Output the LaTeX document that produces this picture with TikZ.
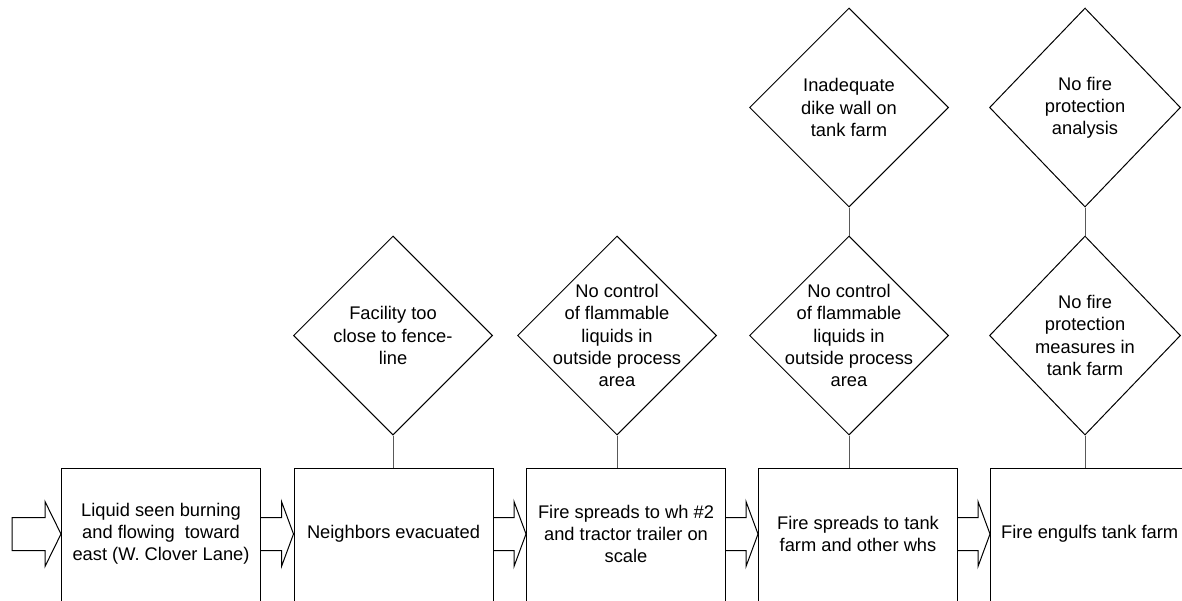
\documentclass[tikz,border=0pt]{standalone}
\usepackage{fontspec}
\setmainfont{Liberation Sans}
\usetikzlibrary{shapes.geometric,calc}
\tikzset{
  box/.style={draw=black, line width=1pt, minimum width=199pt, minimum height=150pt, inner sep=0pt, anchor=north west},
  dia/.style={draw=black, line width=1pt, diamond, minimum width=199pt, minimum height=199pt, inner sep=0pt},
  txt/.style={align=center, font=\fontsize{18.3}{22.2}\selectfont, inner sep=0pt},
  link/.style={draw=black!65, line width=1pt},
  barrow/.style={draw=black, line width=1pt, line join=miter}
}
\begin{document}
\begin{tikzpicture}[x=1pt, y=-1pt]
\useasboundingbox (0,0) rectangle (1182,600);
% boxes (bottom edge lies below the picture)
\node[box] (b1) at (61,468) {};
\node[box] (b2) at (293.5,468) {};
\node[box] (b3) at (526,468) {};
\node[box] (b4) at (758,468) {};
\node[box] (b5) at (990,468) {};
\foreach \b in {b1,b2,b3,b4,b5}{
  \coordinate (\b w) at ($(\b.north west)+(0,66)$);
  \coordinate (\b e) at ($(\b.north east)+(0,66)$);
  \coordinate (\b c) at ($(\b.north)+(0,66)$);
}
\node[txt] at (b1c) {Liquid seen burning\\and flowing\ \ toward\\east (W. Clover Lane)};
\node[txt] at (b2c) {Neighbors evacuated};
\node[txt] at (b3c) {Fire spreads to wh \#2\\and tractor trailer on\\scale};
\node[txt] at (b4c) {Fire spreads to tank\\farm and other whs};
\node[txt, anchor=west] at ($(b5w)+(11,0)$) {Fire engulfs tank farm};
% diamonds
\node[dia] (d1) at (393,335.5) {};
\node[dia] (d2) at (617,335.5) {};
\node[dia] (d3) at (849,335.5) {};
\node[dia] (d4) at (849,107.5) {};
\node[dia, minimum width=191pt] (d5) at (1085,335.5) {};
\node[dia, minimum width=191pt] (d6) at (1085,107.5) {};
\node[txt] at (d1) {Facility too\\close to fence-\\line};
\node[txt] at (d2) {No control\\of flammable\\liquids in\\outside process\\area};
\node[txt] at (d3) {No control\\of flammable\\liquids in\\outside process\\area};
\node[txt] at (d4) {Inadequate\\dike wall on\\tank farm};
\node[txt] at (d5) {No fire\\protection\\measures in\\tank farm};
\node[txt] at (d6) {No fire\\protection\\analysis};
% links
\draw[link] (d1.south) -- (d1.south |- b2.north);
\draw[link] (d2.south) -- (d2.south |- b3.north);
\draw[link] (d3.south) -- (d3.south |- b4.north);
\draw[link] (d4.south) -- (d3.north);
\draw[link] (d5.south) -- (d5.south |- b5.north);
\draw[link] (d6.south) -- (d5.north);
% block arrows
\coordinate (s0) at (12,534);
\draw[barrow] ($(s0)+(0,-16.5)$) -- ($(b1w)+(-16,-16.5)$) -- ($(b1w)+(-16,-32.5)$) -- (b1w)
  -- ($(b1w)+(-16,32.5)$) -- ($(b1w)+(-16,16.5)$) -- ($(s0)+(0,16.5)$) -- cycle;
\foreach \a/\b in {b1/b2, b2/b3, b3/b4, b4/b5}{
  \draw[barrow] ($(\a e)+(0,-16.5)$) -- ($(\b w)+(-12,-16.5)$) -- ($(\b w)+(-12,-32.5)$) -- (\b w)
    -- ($(\b w)+(-12,32.5)$) -- ($(\b w)+(-12,16.5)$) -- ($(\a e)+(0,16.5)$);
}
\end{tikzpicture}
\end{document}
